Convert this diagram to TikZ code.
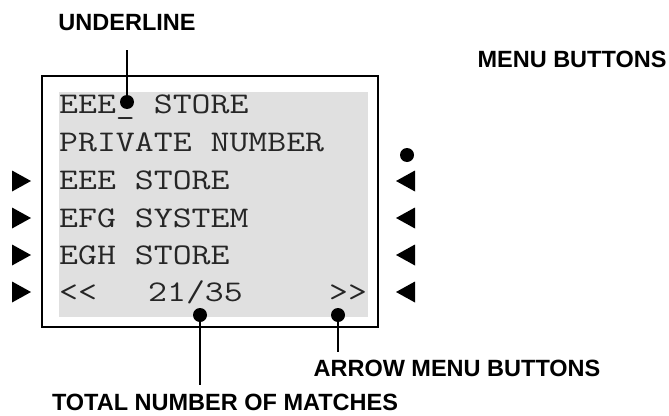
\documentclass[tikz,border=0pt]{standalone}
\usepackage{fontspec}
\setsansfont{Liberation Sans}
\usepackage{graphicx}
\definecolor{lcdgray}{RGB}{224,224,224}
\newcommand\lcdtext[1]{\scalebox{1.225}[1]{#1}}
\tikzset{
  lbl/.style={font=\sffamily\bfseries\fontsize{23.5}{24}\selectfont, inner sep=0pt, anchor=base},
  lcd/.style={font=\ttfamily\fontsize{30}{30}\selectfont, inner sep=0pt, anchor=base west, text=black!85},
  dotnode/.style={circle, fill=black, inner sep=0pt, minimum size=14pt},
  conn/.style={line width=2pt},
  frameline/.style={line width=2.2pt},
}
\begin{document}
\begin{tikzpicture}[x=1pt,y=-1pt]
\useasboundingbox (0,0) rectangle (669,415);
% frame and screen
\draw[frameline] (42,76) rectangle (378,327);
\fill[lcdgray] (59,92) rectangle (368,317);
% screen lines
\node[lcd] (l1) at (59,113) {\lcdtext{EEE\_ STORE}};
\node[lcd] (l2) at (59,151) {\lcdtext{PRIVATE NUMBER}};
\node[lcd] (l3) at (59,189) {\lcdtext{EEE STORE}};
\node[lcd] (l4) at (59,227) {\lcdtext{EFG SYSTEM}};
\node[lcd] (l5) at (59,264) {\lcdtext{EGH STORE}};
\node[lcd] (l6a) at (59,301) {\lcdtext{<<}};
\node[lcd] (l6b) at (148,301) {\lcdtext{21/35}};
\node[lcd] (l6c) at (329,301) {\lcdtext{>>}};
% left triangles
\foreach \c in {181,218,255,292}{
  \fill (12,\c-10.5) -- (31,\c) -- (12,\c+10.5) -- cycle;
}
% right triangles
\foreach \c in {181,218,255,292}{
  \fill (415,\c-10.5) -- (396,\c) -- (415,\c+10.5) -- cycle;
}
% dots
\node[dotnode] (udot) at (127,102) {};
\node[dotnode] (tdot) at (200,315) {};
\node[dotnode] (adot) at (338,315) {};
\node[dotnode] (mdot) at (407,155) {};
% labels
\node[lbl] (ulbl) at (127,30) {UNDERLINE};
\node[lbl] (mlbl) at (572,67) {MENU BUTTONS};
\node[lbl] (albl) at (457,376) {ARROW MENU BUTTONS};
\node[lbl] (tlbl) at (225,410) {TOTAL NUMBER OF MATCHES};
% connectors
\coordinate (utop) at (127,50);
\coordinate (tbot) at (200,385);
\coordinate (abot) at (338,352);
\draw[conn] (utop) -- (udot.center);
\draw[conn] (tdot.center) -- (tbot);
\draw[conn] (adot.center) -- (abot);
\end{tikzpicture}
\end{document}
